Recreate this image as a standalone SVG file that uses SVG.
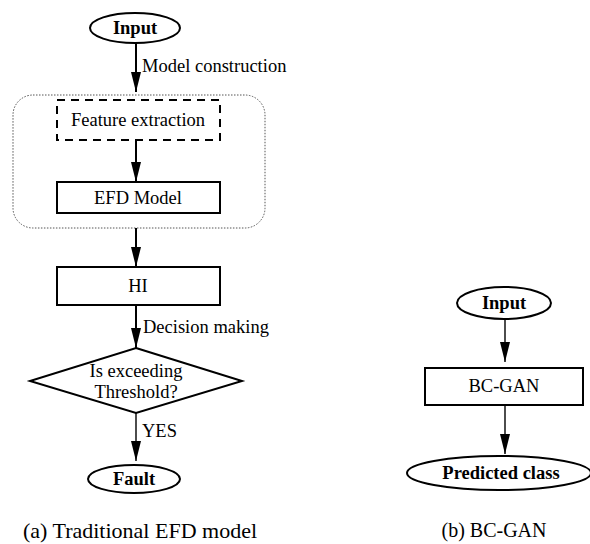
<svg xmlns="http://www.w3.org/2000/svg" width="590" height="544" viewBox="0 0 590 544" font-family="'Liberation Serif', 'Times New Roman', serif">
<style>
text{font-family:"Liberation Serif","Times New Roman",serif;fill:#000}
.lbl{font-size:18.5px}
.b{font-size:18.5px;font-weight:bold}
.mid{text-anchor:middle}
.box{fill:#fff;stroke:#000;stroke-width:2}
.ln{stroke:#000;stroke-width:2;fill:none}
.ln2{stroke:#000;stroke-width:1.4;fill:none}
</style>
<defs>
<marker id="ah" viewBox="0 0 20 10" refX="20" refY="5" markerWidth="20" markerHeight="10" markerUnits="userSpaceOnUse" orient="auto">
<path d="M0,0 L20,5 L0,10 z" fill="#000"/>
</marker>
</defs>
<rect width="590" height="544" fill="#fff"/>
<g id="group-model">
<rect x="13" y="95" width="252" height="133" rx="20" fill="none" stroke="#555" stroke-width="1" stroke-dasharray="1.5,1.5"/>
</g>
<g id="connectors">
<line class="ln" x1="136" y1="43" x2="136" y2="92" marker-end="url(#ah)"/>
<line class="ln" x1="136" y1="140" x2="136" y2="182" marker-end="url(#ah)"/>
<line class="ln" x1="136" y1="228" x2="136" y2="267" marker-end="url(#ah)"/>
<line class="ln" x1="136" y1="305" x2="136" y2="348" marker-end="url(#ah)"/>
<line class="ln2" x1="136" y1="413" x2="136" y2="461" marker-end="url(#ah)"/>
<line class="ln2" x1="505" y1="319" x2="505" y2="362" marker-end="url(#ah)"/>
<line class="ln2" x1="505" y1="405" x2="505" y2="454" marker-end="url(#ah)"/>
<text class="lbl" x="142" y="72">Model construction</text>
<text class="lbl" x="143" y="333">Decision making</text>
<text class="lbl" x="142" y="437">YES</text>
</g>
<g id="input-a">
<ellipse class="box" cx="135" cy="28" rx="45" ry="15"/>
<text class="b mid" x="135" y="34">Input</text>
</g>
<g id="feature-extraction">
<rect x="57" y="100" width="163" height="40" fill="#fff" stroke="#000" stroke-width="2" stroke-dasharray="8,6"/>
<text class="lbl mid" x="138" y="126">Feature extraction</text>
</g>
<g id="efd-model">
<rect class="box" x="57" y="182" width="163" height="31"/>
<text class="lbl mid" x="138" y="204">EFD Model</text>
</g>
<g id="hi">
<rect class="box" x="57" y="267" width="163" height="38"/>
<text class="lbl mid" x="138" y="292">HI</text>
</g>
<g id="threshold">
<polygon class="box" points="136,348 242,381 136,413 30,381"/>
<text class="lbl mid" x="136" y="377">Is exceeding</text>
<text class="lbl mid" x="136" y="398">Threshold?</text>
</g>
<g id="fault">
<ellipse class="box" cx="134" cy="479" rx="46" ry="14"/>
<text class="b mid" x="134" y="485">Fault</text>
</g>
<text class="mid" x="140" y="538" font-size="22">(a) Traditional EFD model</text>
<g id="input-b">
<ellipse class="box" cx="504" cy="303" rx="47" ry="16"/>
<text class="b mid" x="504" y="309">Input</text>
</g>
<g id="bc-gan">
<rect class="box" x="425" y="368" width="158" height="37"/>
<text class="lbl mid" x="504" y="392">BC-GAN</text>
</g>
<g id="predicted-class">
<ellipse class="box" cx="499" cy="473" rx="92" ry="17"/>
<text class="b mid" x="501" y="479">Predicted class</text>
</g>
<text class="mid" x="494" y="537" font-size="20">(b) BC-GAN</text>
</svg>
